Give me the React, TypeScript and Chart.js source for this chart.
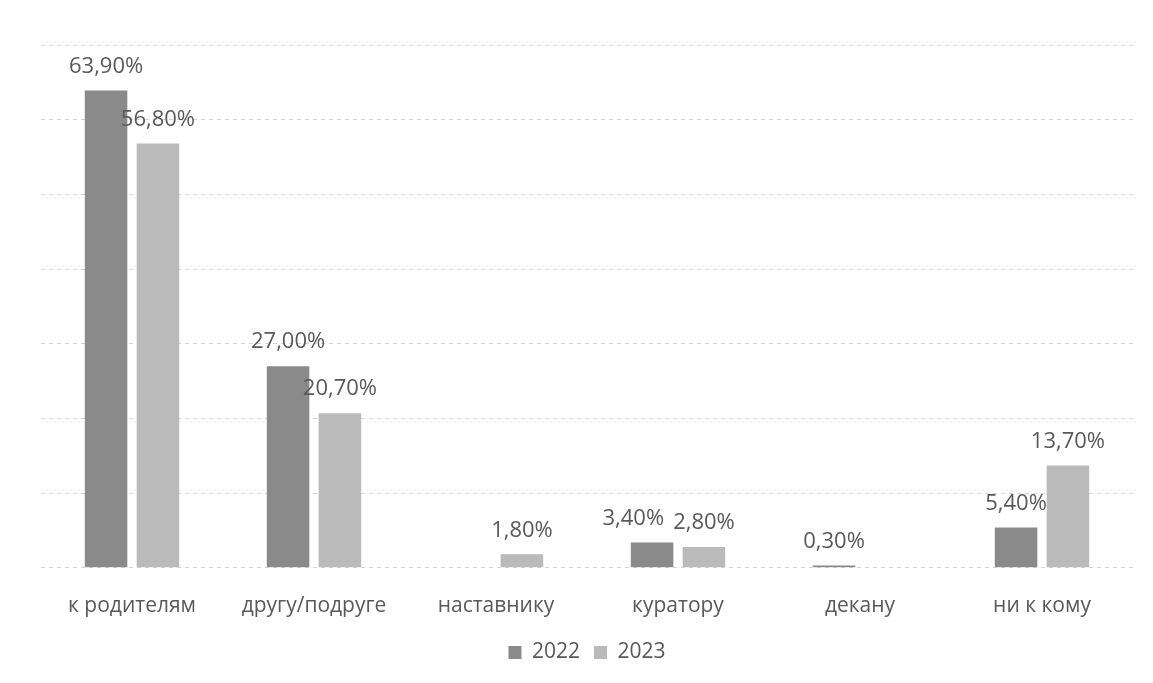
import React, { useEffect, useRef } from "react";
import { Chart, registerables } from "chart.js";

Chart.register(...registerables);

const categories = ["к родителям", "другу/подруге", "наставнику", "куратору", "декану", "ни к кому"];
const series2022: (number | null)[] = [63.9, 27.0, null, 3.4, 0.3, 5.4];
const series2023: (number | null)[] = [56.8, 20.7, 1.8, 2.8, null, 13.7];
const seriesNames = ["2022", "2023"];
const yMax = 70;
const yStep = 10;

const FONT = "'Open Sans', 'Noto Sans', sans-serif";
const TEXT = "#595959";

const valueLabels = {
  id: "valueLabels",
  afterDatasetsDraw(chart: any) {
    const ctx = chart.ctx;
    ctx.save();
    ctx.font = `22px ${FONT}`;
    ctx.fillStyle = TEXT;
    ctx.textAlign = "center";
    ctx.textBaseline = "middle";
    const n = chart.data.labels.length;
    for (let i = 0; i < n; i++) {
      const items: { x: number; y: number; w: number; t: string }[] = [];
      chart.data.datasets.forEach((ds: any, di: number) => {
        const v = ds.data[i];
        if (v === null || v === undefined) return;
        const bar = chart.getDatasetMeta(di).data[i];
        const t = v.toFixed(2).replace(".", ",") + "%";
        items.push({ x: bar.x, y: bar.y - 24, w: ctx.measureText(t).width, t });
      });
      if (items.length === 2) {
        const [a, b] = items;
        const overlapY = Math.abs(a.y - b.y) < 22;
        const gap = b.x - b.w / 2 - (a.x + a.w / 2);
        if (overlapY && gap < 9) a.x -= 9 - gap;
      }
      items.forEach((it) => ctx.fillText(it.t, it.x, it.y));
    }
    ctx.restore();
  },
};

export default function App() {
  const ref = useRef<HTMLCanvasElement | null>(null);
  useEffect(() => {
    if (!ref.current) return;
    const chart = new Chart(ref.current, {
      type: "bar",
      data: {
        labels: categories,
        datasets: [
          {
            label: seriesNames[0],
            data: series2022,
            backgroundColor: "#8a8a8a",
            categoryPercentage: 0.57,
            barPercentage: 0.82,
          },
          {
            label: seriesNames[1],
            data: series2023,
            backgroundColor: "#bababa",
            categoryPercentage: 0.57,
            barPercentage: 0.82,
          },
        ],
      },
      options: {
        animation: false,
        responsive: false,
        maintainAspectRatio: false,
        layout: { padding: { top: 45, left: 41, right: 20, bottom: 10 } },
        plugins: {
          legend: {
            position: "bottom",
            labels: {
              font: { family: FONT, size: 21 },
              color: TEXT,
              boxWidth: 13,
              boxHeight: 13,
              padding: 14,
            },
          },
          tooltip: { enabled: false },
        },
        scales: {
          x: {
            grid: { display: false },
            border: { display: false },
            ticks: { font: { family: FONT, size: 21 }, color: TEXT, padding: 18 },
            afterFit: (s: any) => {
              s.height = s.height - 9;
            },
          },
          y: {
            min: 0,
            max: yMax,
            ticks: { display: false, stepSize: yStep },
            grid: { color: "#d4d4d4", drawTicks: false, lineWidth: 1 },
            border: { display: false, dash: [4, 4] },
            afterFit: (s: any) => {
              s.width = 0;
            },
          },
        },
      },
      plugins: [valueLabels],
    });
    return () => chart.destroy();
  }, []);
  return (
    <div style={{ position: "fixed", left: 0, top: 0, width: 1153, height: 683, background: "#fff" }}>
      <canvas ref={ref} width={1153} height={683} />
    </div>
  );
}
